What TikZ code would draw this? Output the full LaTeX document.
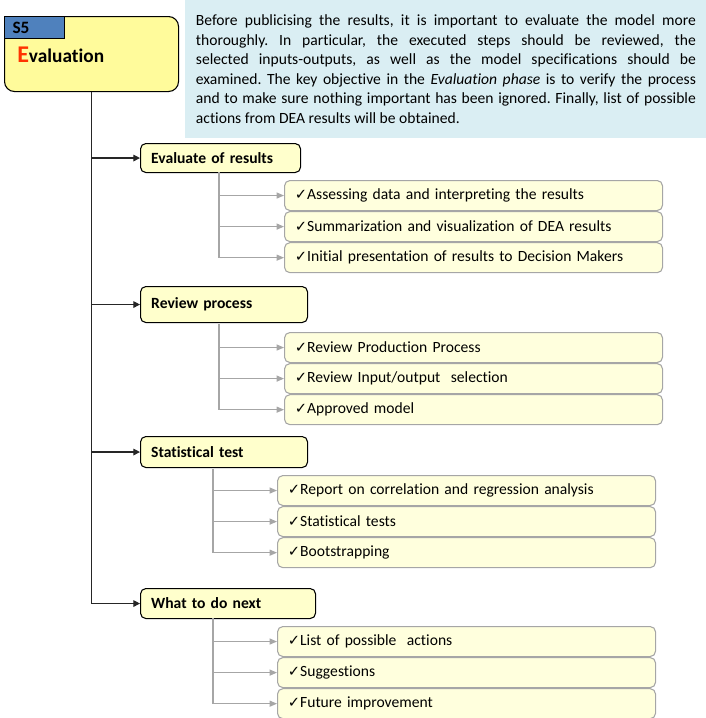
\documentclass[tikz,border=0pt]{standalone}
\usepackage{fontspec}
\setmainfont{Carlito}[Ligatures=CommonOff]
\newfontfamily\chkfont{DejaVu Sans}
\usetikzlibrary{arrows.meta,positioning}
\definecolor{phasecol}{HTML}{FFFB9B}
\definecolor{tabcol}{HTML}{4F81BD}
\definecolor{notecol}{HTML}{DAEEF3}
\definecolor{stepcol}{HTML}{FFFFCC}
\definecolor{itemcol}{HTML}{FFFFDD}
\definecolor{itemline}{HTML}{A6A6A6}
\definecolor{ered}{HTML}{FF3300}
\newcommand{\chk}{{\chkfont\fontsize{11}{11}\selectfont ✓}}
\frenchspacing
\hyphenpenalty=10000
\exhyphenpenalty=10000

\begin{document}
\begin{tikzpicture}[x=0.75pt, y=-0.75pt,
  every node/.style={font=\fontsize{11.7}{14.6}\selectfont},
  phasebox/.style={draw, line width=0.8pt, fill=phasecol, rounded corners=7.5pt, minimum width=130.5pt, minimum height=56.25pt, anchor=north west},
  tabbox/.style={draw, line width=0.8pt, fill=tabcol, anchor=north west, text width=33pt, minimum height=16.5pt, inner xsep=6pt, inner ysep=0pt, align=left, font=\fontsize{13}{13}\selectfont\bfseries},
  notebox/.style={fill=notecol, anchor=north west, text width=375pt, inner xsep=8pt, minimum height=103.5pt, align=justify},
  stepbox/.style={draw, line width=0.8pt, fill=stepcol, rounded corners=4pt, anchor=north west, inner xsep=8pt, inner ysep=0pt, align=left, font=\fontsize{11.7}{14.6}\selectfont\bfseries},
  itembox/.style={draw=itemline, line width=0.8pt, fill=itemcol, rounded corners=4pt, anchor=north west, text width=268pt, minimum height=22.5pt, inner xsep=7.75pt, inner ysep=0pt, align=left},
  mainlink/.style={line width=0.9pt, black!85, -{Triangle[length=5pt,width=5pt]}},
  sublink/.style={line width=0.8pt, itemline, -{Triangle[length=5.5pt,width=4.5pt]}}
]
  \useasboundingbox (0,0) rectangle (706,718);

  % S5
  \node[phasebox] (S5) at (4,16) {};
  \node[tabbox] (S5tab) at (S5.north west) {S5};
  \node[anchor=base west, inner sep=0pt, font=\bfseries] (S5title) at (17,62)
    {{\color{ered}\fontsize{18}{18}\selectfont E}\fontsize{14.5}{14.5}\selectfont valuation};

  % note
  \node[notebox] (note) at (185,0) {Before publicising the results, it is important to evaluate the model more\linebreak
    thoroughly. In particular, the executed steps should be reviewed, the\linebreak
    selected inputs-outputs, as well as the model specifications should be\linebreak
    examined. The key objective in the \emph{Evaluation phase} is to verify the process\linebreak
    and to make sure nothing important has been ignored. Finally, list of possible\linebreak
    actions from DEA results will be obtained.};

  % steps
  \node[stepbox, text width=104pt, minimum height=21.75pt] (evalstep) at (140,143) {Evaluate of results};
  \node[stepbox, text width=109.25pt, minimum height=27pt] (revstep) at (140,286) {Review process};
  \node[stepbox, text width=109.25pt, minimum height=23.25pt] (statstep) at (140,436) {Statistical test};
  \node[stepbox, text width=115.25pt, minimum height=22.5pt] (nextstep) at (140,588) {What to do next};

  \draw[mainlink] (S5.south) |- (evalstep.west);
  \draw[mainlink] (S5.south) |- (revstep.west);
  \draw[mainlink] (S5.south) |- (statstep.west);
  \draw[mainlink] (S5.south) |- (nextstep.west);

  % evaluate of results
  \node[itembox] (ev1) at (284,180) {\chk Assessing data and interpreting the results};
  \node[itembox, below=0pt of ev1] (ev2) {\chk Summarization and visualization of DEA results};
  \node[itembox, below=0pt of ev2] (ev3) {\chk Initial presentation of results to Decision Makers};
  \coordinate (evfork) at (219,172);
  \foreach \i in {1,2,3}
    \draw[sublink] (evfork) |- (ev\i.west);

  % review process
  \node[itembox] (rv1) at (284,332) {\chk Review Production Process};
  \node[itembox, below=0pt of rv1] (rv2) {\chk Review Input/output\ \ selection};
  \node[itembox, below=0pt of rv2] (rv3) {\chk Approved model};
  \coordinate (rvfork) at (219,324);
  \foreach \i in {1,2,3}
    \draw[sublink] (rvfork) |- (rv\i.west);

  % statistical test
  \node[itembox] (st1) at (277,475) {\chk Report on correlation and regression analysis};
  \node[itembox, below=0pt of st1] (st2) {\chk Statistical tests};
  \node[itembox, below=0pt of st2] (st3) {\chk Bootstrapping};
  \coordinate (stfork) at (213,469);
  \foreach \i in {1,2,3}
    \draw[sublink] (stfork) |- (st\i.west);

  % what to do next
  \node[itembox] (nx1) at (277,626) {\chk List of possible\ \ actions};
  \node[itembox, below=0pt of nx1] (nx2) {\chk Suggestions};
  \node[itembox, below=0pt of nx2] (nx3) {\chk Future improvement};
  \coordinate (nxfork) at (213,618);
  \foreach \i in {1,2,3}
    \draw[sublink] (nxfork) |- (nx\i.west);
\end{tikzpicture}
\end{document}
